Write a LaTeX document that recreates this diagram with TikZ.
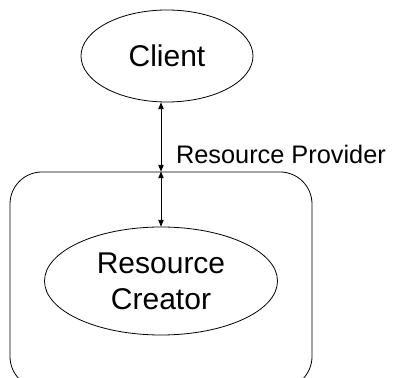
\documentclass[tikz,border=0pt]{standalone}
\usepackage{fontspec}
\setmainfont{Liberation Sans}
\usetikzlibrary{arrows.meta,shapes.geometric}
\begin{document}
\begin{tikzpicture}[x=0.75pt,y=0.75pt,line join=round,line width=0.6pt,
    >={Triangle[length=5pt,width=4pt]},
    oval/.style={draw,ellipse,inner sep=0pt,align=center,font=\fontsize{22.5}{27}\selectfont},
    box/.style={draw,rectangle,rounded corners=24pt,inner sep=0pt}]
        \useasboundingbox (0,0) rectangle (393,378);
        \clip (0,0) rectangle (393,378);
        \node[oval,minimum width=129pt,minimum height=69pt] (client) at (167,322) {Client};
        \node[box,minimum width=226.5pt,minimum height=162.4pt] (provider) at (161,97.75) {};
        \node[oval,minimum width=174.75pt,minimum height=81pt] (creator) at (161,97) {Resource\\Creator};
        \draw[<->] (client.south -| provider.north)--(provider.north)
            node[pos=0.75,anchor=west,inner sep=0pt,xshift=11pt,font=\fontsize{19}{22}\selectfont] (providername) {Resource Provider};
        \draw[<->] (provider.north)--(creator.north);
    \end{tikzpicture}
\end{document}
